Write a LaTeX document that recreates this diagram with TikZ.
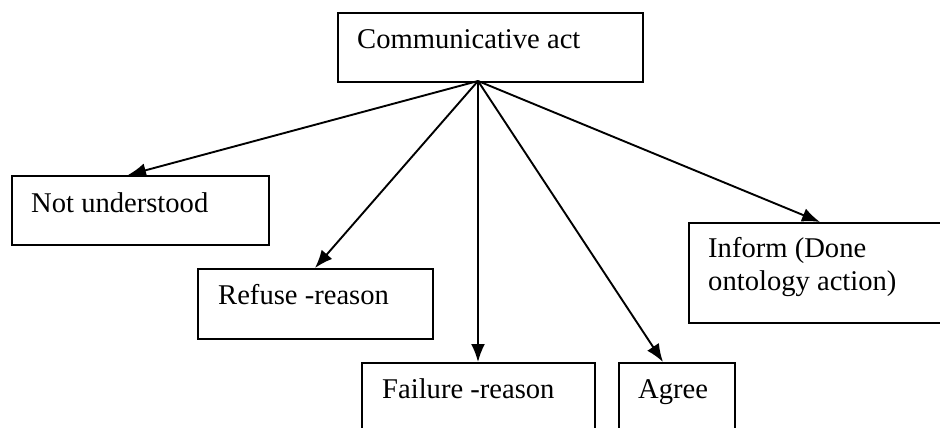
\documentclass[tikz,border=0pt]{standalone}
\usepackage{fontspec}
\setmainfont{Liberation Serif}
\usetikzlibrary{arrows.meta}
\begin{document}
\begin{tikzpicture}[x=1pt,y=-1pt,
  boxshape/.style={draw,line width=1.9pt,inner sep=0pt},
  lbl/.style={anchor=base west,inner sep=0pt,font=\fontsize{28.6}{33}\selectfont},
  conn/.style={line width=1.9pt,-{Latex[length=18pt,width=14pt]}}]
\useasboundingbox (0,0) rectangle (940,428);
\clip (0,0) rectangle (940,428);
\fill[white] (0,0) rectangle (940,428);
% boxes
\node[boxshape,minimum width=305pt,minimum height=69pt,anchor=north west] (comm) at (337,12) {};
\node[boxshape,minimum width=257pt,minimum height=69pt,anchor=north west] (notu) at (11,175) {};
\node[boxshape,minimum width=235pt,minimum height=70pt,anchor=north west] (refuse) at (197,268) {};
\node[boxshape,minimum width=233pt,minimum height=80pt,anchor=north west] (failure) at (361,362) {};
\node[boxshape,minimum width=116pt,minimum height=80pt,anchor=north west] (agree) at (618,362) {};
\node[boxshape,minimum width=260pt,minimum height=100pt,anchor=north west] (inform) at (688,222) {};
% texts
\node[lbl] (tcomm) at (357,49) {Communicative act};
\node[lbl] (tnotu) at (31,212) {Not understood};
\node[lbl] (trefuse) at (218,304) {Refuse -reason};
\node[lbl] (tfailure) at (382,398) {Failure -reason};
\node[lbl] (tagree) at (638,398) {Agree};
\node[lbl] (tinform1) at (708,257) {Inform (Done};
\node[lbl] (tinform2) at (708,290) {ontology action)};
% connectors
\coordinate (src) at (478,81);
\coordinate (enotu) at (128,175);
\coordinate (erefuse) at (315,268);
\coordinate (efailure) at (478,362);
\coordinate (eagree) at (663,362);
\coordinate (einform) at (820,222);
\draw[conn] (src) -- (enotu);
\draw[conn] (src) -- (erefuse);
\draw[conn] (src) -- (efailure);
\draw[conn] (src) -- (eagree);
\draw[conn] (src) -- (einform);
\end{tikzpicture}
\end{document}
